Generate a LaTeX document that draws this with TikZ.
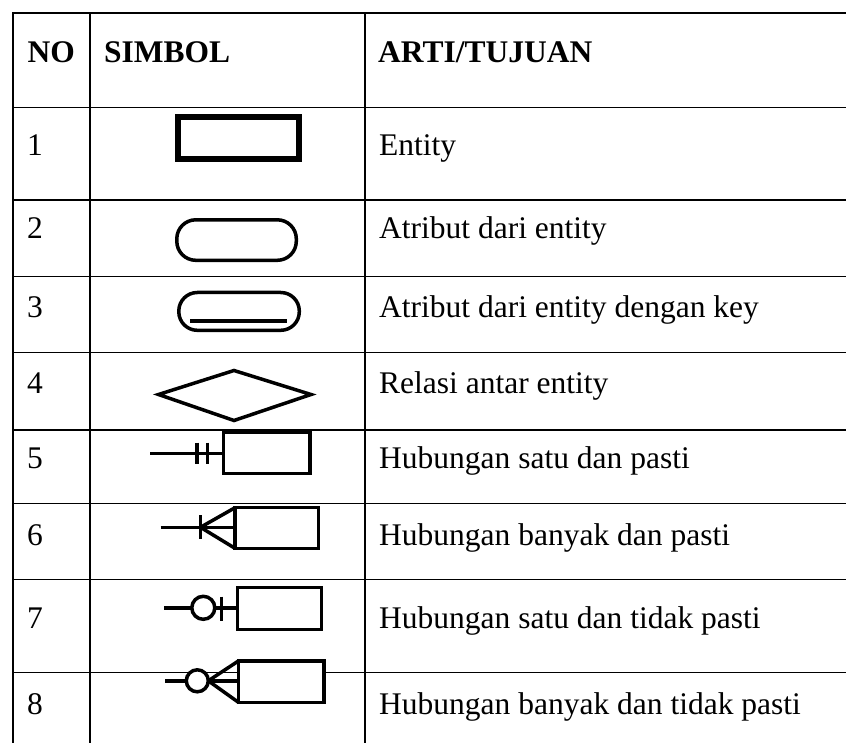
\documentclass[tikz,border=0pt]{standalone}
\usepackage{fontspec}
\setmainfont{Liberation Serif}
\begin{document}
\begin{tikzpicture}[x=1pt,y=-1pt,
  grid/.style={line width=1.4pt},
  txt/.style={anchor=base west,inner sep=0pt,font=\fontsize{31.5}{38}\selectfont},
  hdr/.style={txt,font=\fontsize{31.5}{38}\selectfont\bfseries},
  sym/.style={line width=3.5pt},
  symfill/.style={line width=3.5pt,fill=white}]
\useasboundingbox (0,0) rectangle (846,743);
% table grid
\draw[grid] (846,13) -- (13,13) -- (13,743);
\draw[grid] (90,13) -- (90,743);
\draw[grid] (365,13) -- (365,743);
\foreach \yy in {107.7,200,276.7,352.7,430,503.3,579.3,672.7}
  \draw[grid] (13,\yy) -- (846,\yy);
% header
\node[hdr] (hno) at (27.5,63) {NO};
\node[hdr] (hsim) at (104,63) {SIMBOL};
\node[hdr] (hart) at (378,63) {ARTI/TUJUAN};
% numbers and meanings
\node[txt] (n1) at (27,155.5) {1};
\node[txt] (t1) at (379,155.5) {Entity};
\node[txt] (n2) at (27,238.5) {2};
\node[txt] (t2) at (379,238.5) {Atribut dari entity};
\node[txt] (n3) at (27,317) {3};
\node[txt] (t3) at (379,317) {Atribut dari entity dengan key};
\node[txt] (n4) at (27,393) {4};
\node[txt] (t4) at (379,393) {Relasi antar entity};
\node[txt] (n5) at (27,468.3) {5};
\node[txt] (t5) at (379,468.3) {Hubungan satu dan pasti};
\node[txt] (n6) at (27,545) {6};
\node[txt] (t6) at (379,545) {Hubungan banyak dan pasti};
\node[txt] (n7) at (27,628) {7};
\node[txt] (t7) at (379,628) {Hubungan satu dan tidak pasti};
\node[txt] (n8) at (27,714.5) {8};
\node[txt] (t8) at (379,714.5) {Hubungan banyak dan tidak pasti};
% 1 entity
\draw[line width=6.3pt] (178,117) rectangle (298.7,159.3);
% 2 attribute
\draw[sym,rounded corners=19pt] (176.8,219.8) rectangle (296.3,260.3);
% 3 key attribute
\draw[sym,rounded corners=18.5pt] (178.8,292.5) rectangle (299.3,330.3);
\draw[line width=4pt] (190,321.5) -- (287,321.5);
% 4 relation
\draw[sym,line join=miter] (158.5,394.5) -- (234,370.5) -- (311,394.5) -- (234,420.5) -- cycle;
% 5 one and mandatory
\coordinate (a5) at (150,453.3);
\draw[sym] (a5) -- (223.7,453.3);
\draw[sym] (197,442.7) -- (197,464.3);
\draw[sym] (207.5,442.7) -- (207.5,464.3);
\draw[symfill] (223.7,432.2) rectangle (310,473.4);
% 6 many and mandatory
\coordinate (a6) at (160.7,527.3);
\coordinate (c6) at (200.5,527.3);
\draw[sym] (a6) -- (235,527.3);
\draw[sym] (200.5,515) -- (200.5,538.5);
\draw[sym,line join=miter] (235,507.7) -- (c6) -- (235,548.3);
\draw[symfill] (235,507.7) rectangle (318.3,548.3);
% 7 one optional
\coordinate (a7) at (164.3,607.8);
\draw[sym] (a7) -- (237.7,607.8);
\draw[sym] (221.7,596.7) -- (221.7,620.7);
\draw[symfill] (203.3,607.8) circle (11.5);
\draw[symfill] (237.7,587.7) rectangle (321.5,629.3);
% 8 many optional
\coordinate (a8) at (165,680.8);
\coordinate (c8) at (208.3,680.8);
\draw[sym] (a8) -- (186.3,680.8);
\draw[sym] (c8) -- (238.4,680.8);
\draw[sym] (238.4,661) -- (c8) -- (238.4,702.3);
\draw[symfill] (197.3,680.8) circle (11);
\draw[symfill] (238.4,661) rectangle (324,702.3);
\end{tikzpicture}
\end{document}
